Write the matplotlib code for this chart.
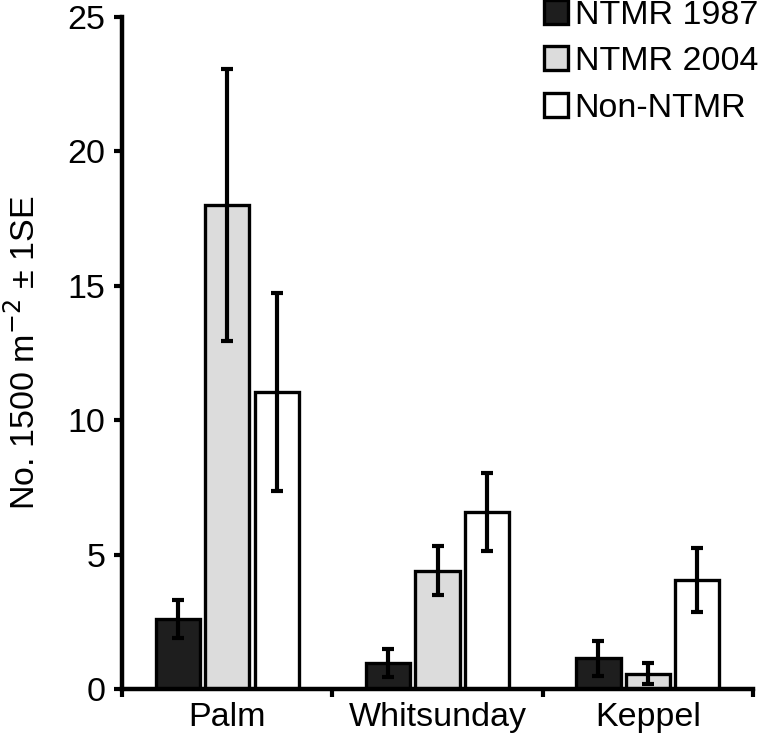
import numpy as np
import matplotlib.pyplot as plt
from matplotlib.ticker import FixedLocator, NullFormatter

plt.rcParams['font.family'] = ['Liberation Sans', 'DejaVu Sans']

sites = ['Palm', 'Whitsunday', 'Keppel']
series = ['NTMR 1987', 'NTMR 2004', 'Non-NTMR']
means = {
    'NTMR 1987': [2.6, 0.97, 1.15],
    'NTMR 2004': [18.0, 4.4, 0.57],
    'Non-NTMR': [11.05, 6.6, 4.05],
}
errs = {
    'NTMR 1987': [0.7, 0.52, 0.65],
    'NTMR 2004': [5.05, 0.92, 0.38],
    'Non-NTMR': [3.7, 1.45, 1.2],
}
colors = ['#1e1e1e', '#dcdcdc', '#ffffff']
fs = 24.5

fig = plt.figure(figsize=(7.63, 7.42), dpi=100)
ax = fig.add_axes([0.16, 0.0714, 0.827, 0.9056])

x = np.arange(len(sites))
step = 0.235
width = 0.21
for i, s in enumerate(series):
    ax.bar(x + (i - 1) * step, means[s], width, color=colors[i],
           edgecolor='black', linewidth=2.4, label=s, zorder=2,
           yerr=errs[s], error_kw=dict(ecolor='black', elinewidth=3,
                                        capsize=4, capthick=3))

ax.set_xlim(-0.5, 2.5)
ax.set_ylim(0, 25)
ax.set_yticks([0, 5, 10, 15, 20, 25])
ax.set_xticks(x)
ax.set_xticklabels(sites)
ax.tick_params(axis='x', which='major', length=0, pad=9, labelsize=fs)
ax.xaxis.set_minor_locator(FixedLocator([-0.5, 0.5, 1.5, 2.5]))
ax.xaxis.set_minor_formatter(NullFormatter())
ax.tick_params(axis='x', which='minor', length=6, width=3, direction='out')
ax.tick_params(axis='y', length=6, width=3, direction='out', labelsize=fs, pad=6)

for sp in ['top', 'right']:
    ax.spines[sp].set_visible(False)
for sp in ['left', 'bottom']:
    ax.spines[sp].set_linewidth(3.2)

ax.set_ylabel('No. 1500 m$^{-2}$ ± 1SE', fontsize=fs, labelpad=19)

fig.legend(loc='upper right', frameon=False, fontsize=fs, handlelength=0.7,
           handleheight=0.7, handletextpad=0.2, labelspacing=0.45,
           borderaxespad=0, borderpad=0, bbox_to_anchor=(758 / 763, 1.0),
           bbox_transform=fig.transFigure)

fig.savefig('out.png', dpi=100)
